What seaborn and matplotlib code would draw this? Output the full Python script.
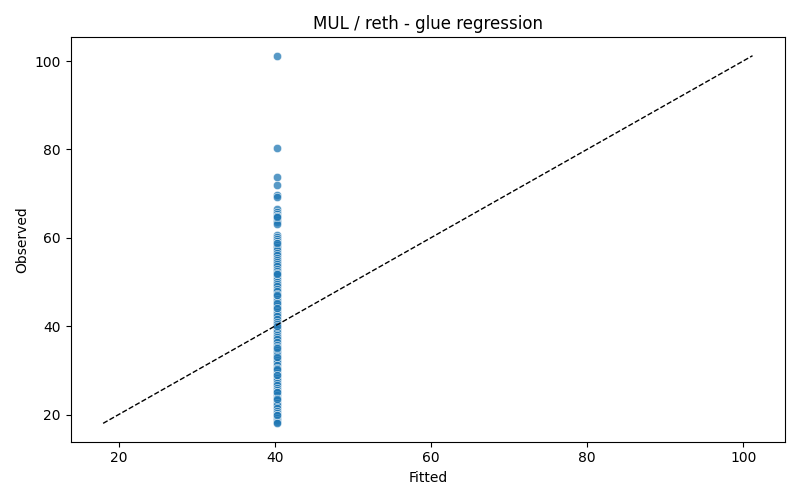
import matplotlib
matplotlib.use("Agg")
import matplotlib.pyplot as plt
import numpy as np
import pandas as pd
import seaborn as sns

# fitted value is a single constant (intercept-only model)
fitted_value = 40.25

observed = [101.2, 80.3, 73.7, 71.9, 69.6, 69.3, 66.4, 65.8, 65.3, 64.9, 64.6,
            64.1, 63.5, 63.1, 60.6, 60.1, 59.7, 59.3, 58.9, 58.4, 57.8, 57.3,
            56.6, 56.0, 55.5, 55.0, 54.6, 54.1, 53.6, 53.0, 52.4, 51.8, 51.3,
            50.7, 50.1, 49.6, 49.1, 48.5, 47.9, 47.3, 46.8, 46.2, 45.6, 45.1,
            44.5, 43.9, 43.3, 42.8, 42.2, 41.6, 41.0, 40.4, 39.9, 39.3, 38.7,
            38.1, 37.6, 37.0, 36.4, 35.8, 35.3, 34.7, 34.1, 33.5, 32.9, 32.4,
            31.8, 31.2, 30.6, 30.1, 29.5, 28.9, 28.3, 27.8, 27.2, 26.6, 26.1,
            25.5, 25.0, 24.4, 23.8, 23.2, 22.7, 22.1, 21.5, 20.9, 20.4, 19.8,
            19.3, 18.7, 18.3, 18.0, 35.1, 30.4, 45.3, 52.0, 58.8, 44.0, 25.2,
            19.9, 33.0, 47.1, 65.0, 64.7, 51.7, 40.1, 29.0, 23.5]

df = pd.DataFrame({"Fitted": [fitted_value] * len(observed), "Observed": observed})

fig, ax = plt.subplots(figsize=(8, 5), dpi=100)
sns.scatterplot(data=df, x="Fitted", y="Observed", ax=ax, alpha=0.75)

lo = min(df["Fitted"].min(), df["Observed"].min())
hi = max(df["Fitted"].max(), df["Observed"].max())
ax.plot([lo, hi], [lo, hi], color="black", linestyle="--", linewidth=1)

ax.set_title("MUL / reth - glue regression")
ax.set_xlabel("Fitted")
ax.set_ylabel("Observed")

fig.tight_layout()
fig.savefig("out.png")
